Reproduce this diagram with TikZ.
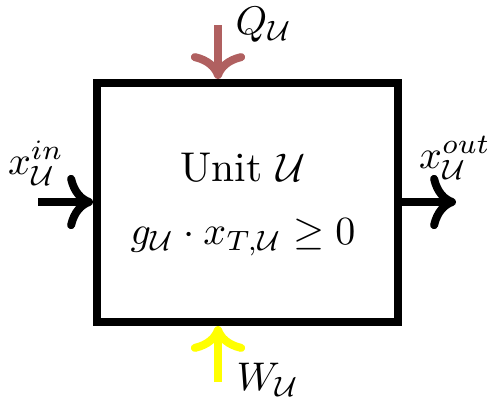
\documentclass[tikz,border=0pt]{standalone}
\usetikzlibrary{arrows.meta}
\definecolor{heatc}{RGB}{176,96,96}
\definecolor{workc}{RGB}{255,255,0}
\begin{document}
\begin{tikzpicture}[x=0.25pt,y=-0.25pt,
  thick line/.style={line width=2pt},
  flow/.style={line width=2pt,-{Computer Modern Rightarrow[scale=1.08]}},
  lbl/.style={font=\fontsize{10.4}{12.5}\selectfont, inner sep=0pt}]
\useasboundingbox (0,0) rectangle (493,408);
\node[draw, thick line, minimum width=75.25pt, minimum height=59.75pt, inner sep=0pt] (unit) at (247.5,202.5) {};
\node[lbl] (title) at (243,168) {Unit $\mathcal{U}$};
\node[lbl] (eq) at (243,237) {$g_{\mathcal{U}}\cdot x_{T,\mathcal{U}}\geq 0$};
\coordinate (qs) at (218,25);
\coordinate (ws) at (218,382);
\coordinate (is) at (38,202);
\coordinate (oe) at (456,202);
\draw[flow, heatc] (qs) -- (qs |- unit.north);
\draw[flow, workc] (ws) -- (ws |- unit.south);
\draw[flow] (is) -- (is -| unit.west);
\draw[flow] (oe -| unit.east) -- (oe);
\node[lbl] (ql) at (264,25) {$Q_{\mathcal{U}}$};
\node[lbl] (wl) at (268,380) {$W_{\mathcal{U}}$};
\node[lbl] (il) at (36,163) {$x^{in}_{\mathcal{U}}$};
\node[lbl] (ol) at (455,158) {$x^{out}_{\mathcal{U}}$};
\end{tikzpicture}
\end{document}
